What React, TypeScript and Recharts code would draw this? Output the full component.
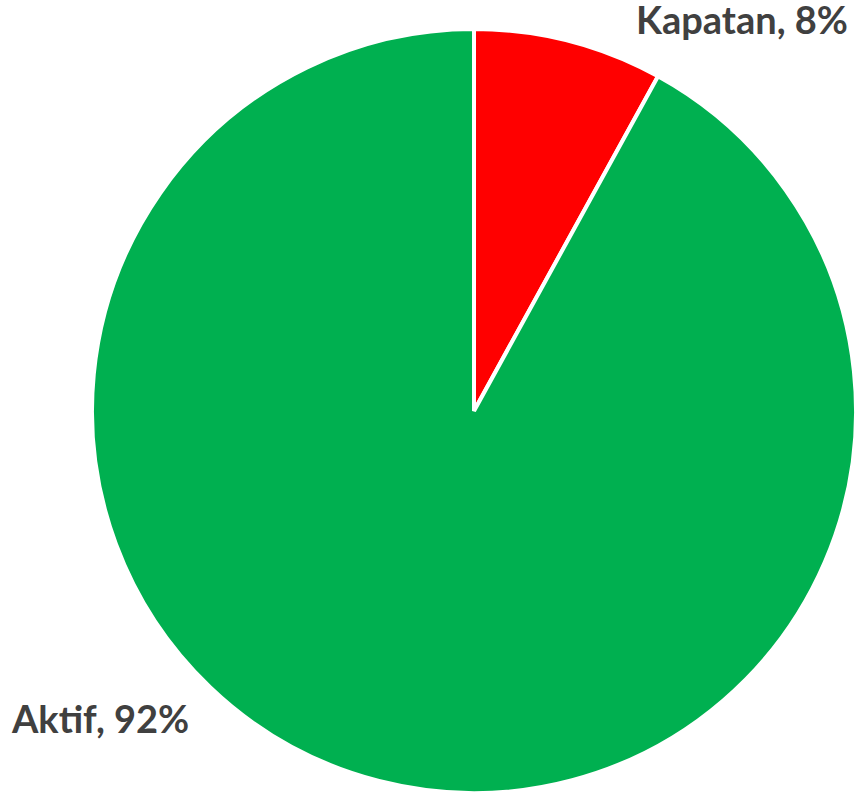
import { PieChart, Pie, Cell } from 'recharts';

const categories = ['Kapatan', 'Aktif'];
const shares = [8, 92];
const colors = ['#FF0000', '#00B050'];

const data = categories.map((name, i) => ({ name, value: shares[i] }));

// Excel-style "best fit" labels: one top-right, one bottom-left
const renderLabel = (props: any) => {
  const { cx, cy, outerRadius, index, name, value } = props;
  const right = index === 0;
  const x = right ? cx + outerRadius - 8 : cx - outerRadius - 80;
  const y = right ? cy - outerRadius + 5 : cy + outerRadius - 60;
  return (
    <text
      x={x}
      y={y}
      textAnchor={right ? 'end' : 'start'}
      fill="#404040"
      fontFamily="Lato, 'Open Sans', sans-serif"
      fontWeight={700}
      fontSize={38}
    >
      {`${name}, ${value}%`}
    </text>
  );
};

const App = () => {
  return (
    <div style={{ position: 'absolute', left: 0, top: 0, background: '#fff' }}>
      <PieChart width={858} height={797} margin={{ top: 0, right: 0, bottom: 0, left: 0 }}>
        <Pie
          data={data}
          dataKey="value"
          nameKey="name"
          cx={474}
          cy={411}
          outerRadius={382}
          startAngle={90}
          endAngle={-270}
          stroke="#fff"
          strokeWidth={4}
          label={renderLabel}
          labelLine={false}
          isAnimationActive={false}
        >
          {data.map((d, i) => (
            <Cell key={d.name} fill={colors[i]} />
          ))}
        </Pie>
      </PieChart>
    </div>
  );
};

export default App;
